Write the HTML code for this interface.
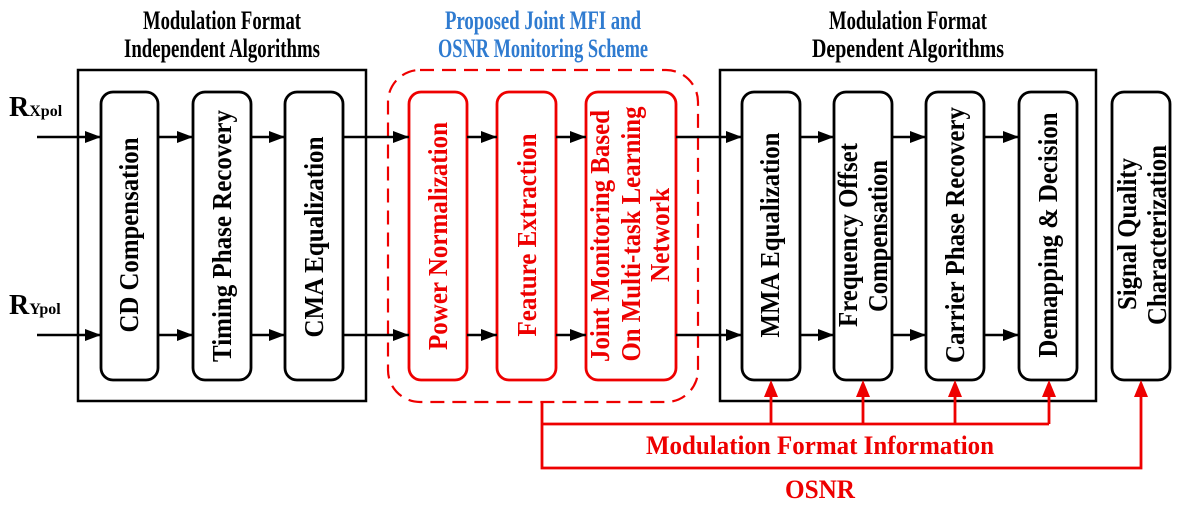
<!DOCTYPE html>
<html><head><meta charset="utf-8"><style>
html,body{margin:0;padding:0;background:#fff;width:1181px;height:506px;overflow:hidden}
text{font-family:"Liberation Serif",serif;font-weight:bold}
</style></head><body>
<svg width="1181" height="506" viewBox="0 0 1181 506" xmlns="http://www.w3.org/2000/svg">
<defs>
<marker id="ak" markerWidth="16" markerHeight="12" refX="16" refY="6" orient="auto" markerUnits="userSpaceOnUse"><path d="M0,0 L16,6 L0,12 z" fill="#000"/></marker>
</defs>
<!-- titles -->
<g font-size="26" text-anchor="middle">
<text x="222" y="29" textLength="158" lengthAdjust="spacingAndGlyphs">Modulation Format</text>
<text x="222" y="57" textLength="196" lengthAdjust="spacingAndGlyphs">Independent Algorithms</text>
<text x="543" y="29" textLength="196" lengthAdjust="spacingAndGlyphs" fill="#2f7bd0">Proposed Joint MFI and</text>
<text x="543" y="57" textLength="210" lengthAdjust="spacingAndGlyphs" fill="#2f7bd0">OSNR Monitoring Scheme</text>
<text x="908" y="29" textLength="158" lengthAdjust="spacingAndGlyphs">Modulation Format</text>
<text x="908" y="57" textLength="192" lengthAdjust="spacingAndGlyphs">Dependent Algorithms</text>
</g>
<!-- R labels -->
<text x="9" y="116" font-size="28">R<tspan font-size="16">Xpol</tspan></text>
<text x="9" y="314" font-size="28">R<tspan font-size="16">Ypol</tspan></text>
<!-- outer boxes -->
<rect x="78" y="70" width="288" height="331" fill="none" stroke="#000" stroke-width="2.5"/>
<rect x="720" y="70" width="376" height="331" fill="none" stroke="#000" stroke-width="2.5"/>
<rect x="388" y="70" width="310" height="332" rx="32" fill="none" stroke="#e00" stroke-width="2.2" stroke-dasharray="14,8"/>
<!-- black blocks -->
<g fill="#fff" stroke="#000" stroke-width="2.8">
<rect x="101" y="92" width="57" height="288" rx="12"/>
<rect x="193" y="92" width="58" height="288" rx="12"/>
<rect x="285" y="92" width="58" height="288" rx="12"/>
<rect x="742" y="92" width="58" height="288" rx="12"/>
<rect x="834" y="92" width="58" height="288" rx="12"/>
<rect x="926" y="92" width="58" height="288" rx="12"/>
<rect x="1019" y="92" width="58" height="288" rx="12"/>
<rect x="1112" y="92" width="58" height="288" rx="12"/>
</g>
<g fill="#fff" stroke="#e00" stroke-width="2.8">
<rect x="409" y="92" width="58" height="288" rx="12"/>
<rect x="497" y="92" width="59" height="288" rx="12"/>
<rect x="586" y="92" width="90" height="288" rx="12"/>
</g>
<!-- black arrows -->
<g stroke="#000" stroke-width="2.5" marker-end="url(#ak)">
<line x1="37" y1="137" x2="101" y2="137"/><line x1="37" y1="335" x2="101" y2="335"/>
<line x1="158" y1="137" x2="193" y2="137"/><line x1="158" y1="335" x2="193" y2="335"/>
<line x1="251" y1="137" x2="285" y2="137"/><line x1="251" y1="335" x2="285" y2="335"/>
<line x1="343" y1="137" x2="409" y2="137"/><line x1="343" y1="335" x2="409" y2="335"/>
<line x1="467" y1="137" x2="497" y2="137"/><line x1="467" y1="335" x2="497" y2="335"/>
<line x1="556" y1="137" x2="586" y2="137"/><line x1="556" y1="335" x2="586" y2="335"/>
<line x1="676" y1="137" x2="742" y2="137"/><line x1="676" y1="335" x2="742" y2="335"/>
<line x1="800" y1="137" x2="834" y2="137"/><line x1="800" y1="335" x2="834" y2="335"/>
<line x1="892" y1="137" x2="926" y2="137"/><line x1="892" y1="335" x2="926" y2="335"/>
<line x1="984" y1="137" x2="1019" y2="137"/><line x1="984" y1="335" x2="1019" y2="335"/>
</g>
<!-- red feedback -->
<g stroke="#e00" stroke-width="2.8" fill="none">
<polyline points="542,402 542,468 1141,468 1141,394"/>
<line x1="542" y1="424" x2="1049" y2="424"/>
<line x1="771" y1="424" x2="771" y2="394"/>
<line x1="863" y1="424" x2="863" y2="394"/>
<line x1="955" y1="424" x2="955" y2="394"/>
<line x1="1049" y1="424" x2="1049" y2="394"/>
</g>
<g fill="#e00">
<path d="M764,397 L771,380 L778,397 z"/><path d="M856,397 L863,380 L870,397 z"/>
<path d="M948,397 L955,380 L962,397 z"/><path d="M1042,397 L1049,380 L1056,397 z"/>
<path d="M1134,397 L1141,380 L1148,397 z"/>
</g>
<text x="820" y="454" font-size="26" fill="#e00" text-anchor="middle" textLength="348" lengthAdjust="spacingAndGlyphs">Modulation Format Information</text>
<text x="820" y="498" font-size="26" fill="#e00" text-anchor="middle" textLength="70" lengthAdjust="spacingAndGlyphs">OSNR</text>
<!-- vertical labels -->
<g font-size="27" text-anchor="middle">
<text transform="translate(138,235) rotate(-90)" textLength="195" lengthAdjust="spacingAndGlyphs">CD Compensation</text>
<text transform="translate(231,236) rotate(-90)" textLength="252" lengthAdjust="spacingAndGlyphs">Timing Phase Recovery</text>
<text transform="translate(323,237) rotate(-90)" textLength="201" lengthAdjust="spacingAndGlyphs">CMA Equalization</text>
<text transform="translate(779,235) rotate(-90)" textLength="205" lengthAdjust="spacingAndGlyphs">MMA Equalization</text>
<text transform="translate(857,235) rotate(-90)" textLength="184" lengthAdjust="spacingAndGlyphs">Frequency Offset</text>
<text transform="translate(887,236) rotate(-90)" textLength="152" lengthAdjust="spacingAndGlyphs">Compensation</text>
<text transform="translate(964,235) rotate(-90)" textLength="256" lengthAdjust="spacingAndGlyphs">Carrier Phase Recovery</text>
<text transform="translate(1057,235) rotate(-90)" textLength="245" lengthAdjust="spacingAndGlyphs">Demapping &amp; Decision</text>
<text transform="translate(1136,234) rotate(-90)" textLength="152" lengthAdjust="spacingAndGlyphs">Signal Quality</text>
<text transform="translate(1166,235) rotate(-90)" textLength="180" lengthAdjust="spacingAndGlyphs">Characterization</text>
</g>
<g font-size="27" text-anchor="middle" fill="#e00">
<text transform="translate(447,236) rotate(-90)" textLength="228" lengthAdjust="spacingAndGlyphs">Power Normalization</text>
<text transform="translate(536,235) rotate(-90)" textLength="203" lengthAdjust="spacingAndGlyphs">Feature Extraction</text>
<text transform="translate(609,236) rotate(-90)" textLength="252" lengthAdjust="spacingAndGlyphs">Joint Monitoring Based</text>
<text transform="translate(640,234) rotate(-90)" textLength="255" lengthAdjust="spacingAndGlyphs">On Multi-task Learning</text>
<text transform="translate(669,235) rotate(-90)" textLength="94" lengthAdjust="spacingAndGlyphs">Network</text>
</g>
</svg>
</body></html>
